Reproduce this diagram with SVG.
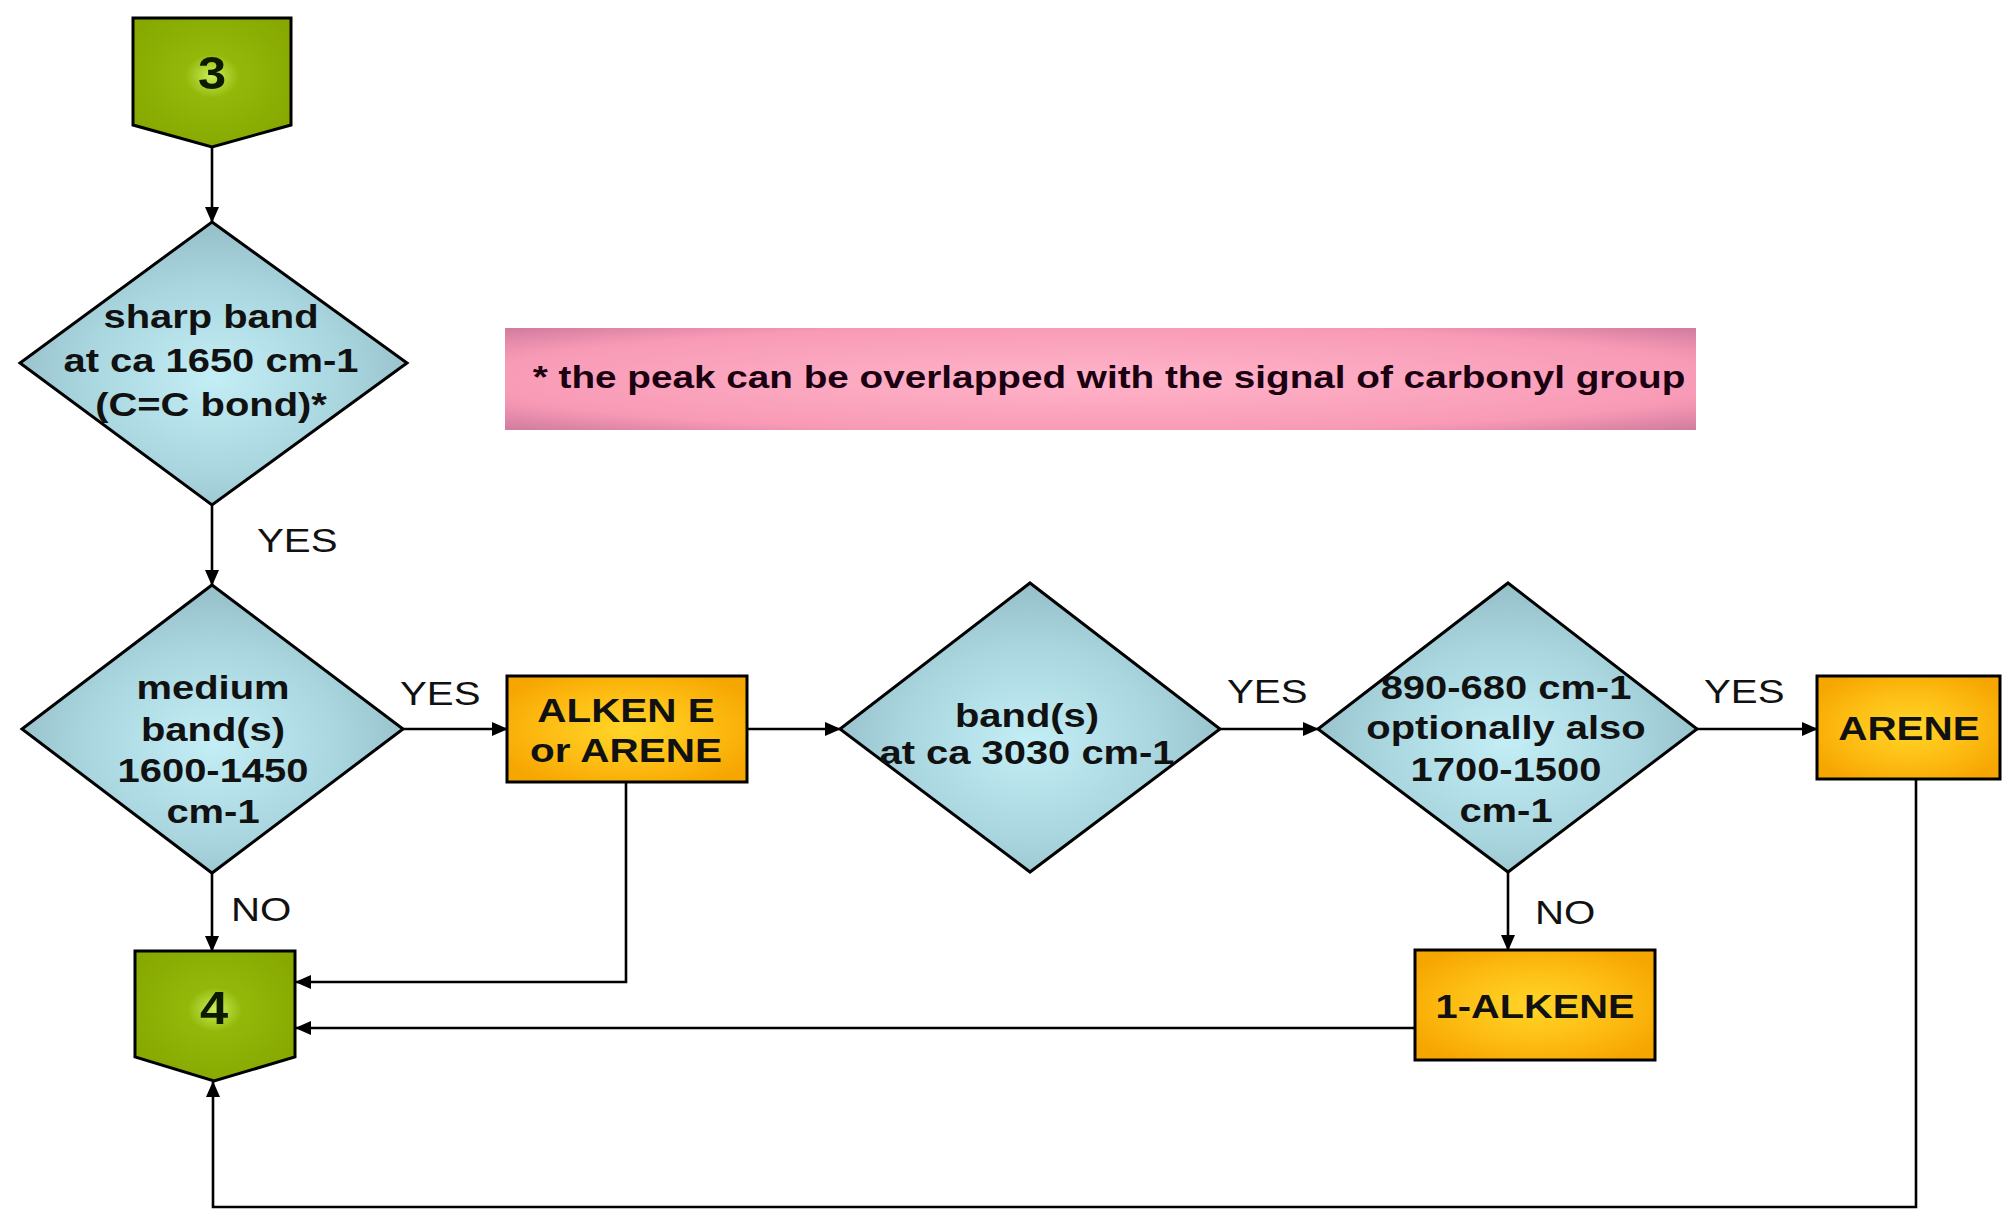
<svg xmlns="http://www.w3.org/2000/svg" width="2004" height="1211" viewBox="0 0 2004 1211">
  <defs>
    <radialGradient id="gGreen" cx="0.5" cy="0.45" r="0.6">
      <stop offset="0" stop-color="#c9ef5a"/>
      <stop offset="0.28" stop-color="#94b80a"/>
      <stop offset="1" stop-color="#86a800"/>
    </radialGradient>
    <radialGradient id="gBlue" cx="0.5" cy="0.55" r="0.55">
      <stop offset="0" stop-color="#c4eef6"/>
      <stop offset="0.6" stop-color="#a9d6df"/>
      <stop offset="1" stop-color="#96bfc8"/>
    </radialGradient>
    <radialGradient id="gOrange" cx="0.5" cy="0.5" r="0.6">
      <stop offset="0" stop-color="#ffd628"/>
      <stop offset="0.6" stop-color="#fdbb12"/>
      <stop offset="1" stop-color="#f6a600"/>
    </radialGradient>
    <radialGradient id="gPink" cx="0.5" cy="0.5" r="0.7">
      <stop offset="0" stop-color="#ffb4ca"/>
      <stop offset="0.75" stop-color="#f89ab6"/>
      <stop offset="1" stop-color="#d27c9e"/>
    </radialGradient>
    <marker id="arr" markerUnits="userSpaceOnUse" markerWidth="16" markerHeight="14" refX="15" refY="7" orient="auto">
      <path d="M0,0 L16,7 L0,14 Z" fill="#000"/>
    </marker>
    <style>
      .dia { fill:url(#gBlue); stroke:#000; stroke-width:3; }
      .box { fill:url(#gOrange); stroke:#000; stroke-width:3; }
      .term { fill:url(#gGreen); stroke:#000; stroke-width:3; }
      .con { fill:none; stroke:#000; stroke-width:2.6; }
      .t { font-family:"Liberation Sans", Arial, sans-serif; font-weight:bold; font-size:33px; fill:#111; text-anchor:middle; }
      .lbl { font-family:"Liberation Sans", Arial, sans-serif; font-size:33px; fill:#111; }
      .num { font-family:"Liberation Sans", Arial, sans-serif; font-weight:bold; font-size:46px; fill:#0d1a00; text-anchor:middle; }
      .note { font-family:"Liberation Sans", Arial, sans-serif; font-weight:bold; font-size:32px; fill:#1a0010; text-anchor:middle; }
    </style>
  </defs>
  <rect x="0" y="0" width="2004" height="1211" fill="#ffffff"/>

  <g id="connectors">
    <line class="con" x1="212" y1="147" x2="212" y2="222" marker-end="url(#arr)"/>
    <line class="con" x1="212" y1="505" x2="212" y2="585" marker-end="url(#arr)"/>
    <line class="con" x1="403" y1="729" x2="507" y2="729" marker-end="url(#arr)"/>
    <line class="con" x1="747" y1="729" x2="840" y2="729" marker-end="url(#arr)"/>
    <line class="con" x1="1220" y1="729" x2="1318" y2="729" marker-end="url(#arr)"/>
    <line class="con" x1="1697" y1="729" x2="1817" y2="729" marker-end="url(#arr)"/>
    <line class="con" x1="212" y1="873" x2="212" y2="951" marker-end="url(#arr)"/>
    <line class="con" x1="1508" y1="872" x2="1508" y2="950" marker-end="url(#arr)"/>
    <polyline class="con" points="626,782 626,982 296,982" marker-end="url(#arr)"/>
    <line class="con" x1="1415" y1="1028" x2="296" y2="1028" marker-end="url(#arr)"/>
    <polyline class="con" points="1916,779 1916,1207 213,1207 213,1082" marker-end="url(#arr)"/>
    <text class="lbl" transform="translate(257,552) scale(1.22,1)">YES</text>
    <text class="lbl" transform="translate(400,705) scale(1.22,1)">YES</text>
    <text class="lbl" transform="translate(1227,703) scale(1.22,1)">YES</text>
    <text class="lbl" transform="translate(1704,703) scale(1.22,1)">YES</text>
    <text class="lbl" transform="translate(231,921) scale(1.22,1)">NO</text>
    <text class="lbl" transform="translate(1535,924) scale(1.22,1)">NO</text>
  </g>

  <g id="node3">
    <polygon class="term" points="133,18 291,18 291,125 212,147 133,125"/>
    <text class="num" transform="translate(212,89) scale(1.1,1)">3</text>
  </g>

  <g id="note">
    <rect x="505" y="328" width="1191" height="102" fill="url(#gPink)"/>
    <text class="note" transform="translate(1109,388) scale(1.21,1)">* the peak can be overlapped with the signal of carbonyl group</text>
  </g>

  <g id="d1">
    <polygon class="dia" points="212,222 407,363 212,505 20,363"/>
    <text class="t" transform="translate(211,0) scale(1.21,1)"><tspan x="0" y="328">sharp band</tspan><tspan x="0" y="372">at ca 1650 cm-1</tspan><tspan x="0" y="416">(C=C bond)*</tspan></text>
  </g>

  <g id="d2">
    <polygon class="dia" points="212,585 403,729 212,873 22,729"/>
    <text class="t" transform="translate(213,0) scale(1.21,1)"><tspan x="0" y="699">medium</tspan><tspan x="0" y="741">band(s)</tspan><tspan x="0" y="782">1600-1450</tspan><tspan x="0" y="823">cm-1</tspan></text>
  </g>

  <g id="alkene-arene">
    <rect class="box" x="507" y="676" width="240" height="106"/>
    <text class="t" transform="translate(626,0) scale(1.19,1)" style="font-size:34px"><tspan x="0" y="722">ALKEN E</tspan><tspan x="0" y="762">or ARENE</tspan></text>
  </g>

  <g id="d3">
    <polygon class="dia" points="1030,583 1220,729 1030,872 840,729"/>
    <text class="t" transform="translate(1027,0) scale(1.21,1)"><tspan x="0" y="727">band(s)</tspan><tspan x="0" y="764">at ca 3030 cm-1</tspan></text>
  </g>

  <g id="d4">
    <polygon class="dia" points="1508,583 1697,729 1508,872 1318,729"/>
    <text class="t" transform="translate(1506,0) scale(1.21,1)"><tspan x="0" y="699">890-680 cm-1</tspan><tspan x="0" y="739">optionally also</tspan><tspan x="0" y="781">1700-1500</tspan><tspan x="0" y="822">cm-1</tspan></text>
  </g>

  <g id="arene">
    <rect class="box" x="1817" y="676" width="183" height="103"/>
    <text class="t" transform="translate(1909,740) scale(1.19,1)" style="font-size:34px">ARENE</text>
  </g>

  <g id="alkene1">
    <rect class="box" x="1415" y="950" width="240" height="110"/>
    <text class="t" transform="translate(1535,1018) scale(1.17,1)" style="font-size:34px">1-ALKENE</text>
  </g>

  <g id="node4">
    <polygon class="term" points="135,951 295,951 295,1057 214,1081 135,1057"/>
    <text class="num" transform="translate(214,1024) scale(1.1,1)">4</text>
  </g>
</svg>
